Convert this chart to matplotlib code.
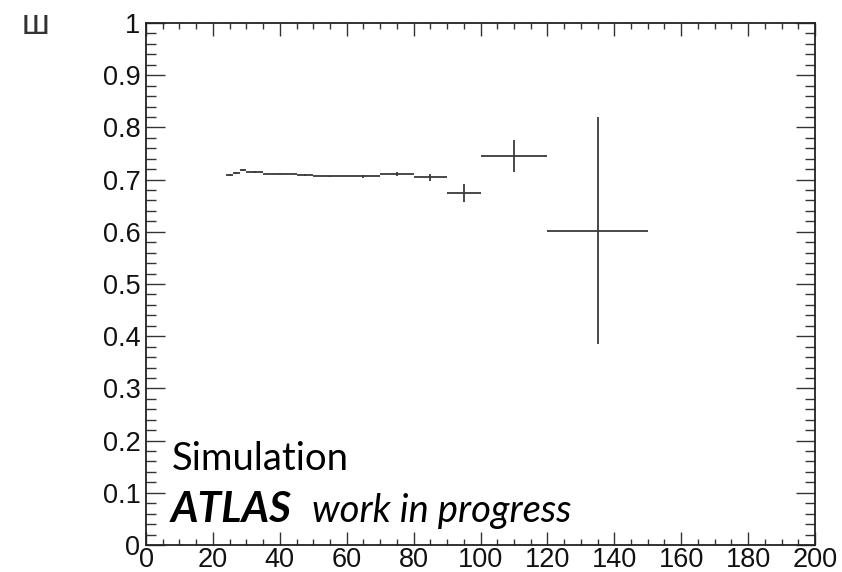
import numpy as np
import matplotlib.pyplot as plt
from matplotlib.ticker import MultipleLocator

# profile bins (variable width) and their mean / error
bin_lo = [24, 26, 28, 30, 35, 45, 50, 60, 70, 80, 90, 100, 120]
bin_hi = [26, 28, 30, 35, 45, 50, 60, 70, 80, 90, 100, 120, 150]
mean = [0.708, 0.713, 0.718, 0.714, 0.711, 0.709, 0.706, 0.706, 0.710, 0.7045, 0.675, 0.745, 0.602]
err = [0.002, 0.002, 0.002, 0.002, 0.001, 0.002, 0.001, 0.002, 0.004, 0.007, 0.017, 0.030, 0.217]

lo = np.array(bin_lo, dtype=float)
hi = np.array(bin_hi, dtype=float)
xc = 0.5 * (lo + hi)
xw = 0.5 * (hi - lo)

W, H = 842, 572
plt.rcParams['font.family'] = ['Liberation Sans', 'DejaVu Sans']

fig = plt.figure(figsize=(W / 100, H / 100), dpi=100)
ax = fig.add_axes([146 / W, 1 - 545 / H, (815 - 146) / W, (545 - 23) / H])

ax.errorbar(xc, mean, xerr=xw, yerr=err, fmt='none', ecolor='#3a3a3a',
            elinewidth=1.3, capsize=0)

ax.set_xlim(0, 200)
ax.set_ylim(0, 1)
ax.xaxis.set_major_locator(MultipleLocator(20))
ax.xaxis.set_minor_locator(MultipleLocator(5))
ax.yaxis.set_minor_locator(MultipleLocator(0.02))
ax.set_yticks(np.arange(0, 1.01, 0.1))
ax.set_yticklabels(['0'] + ['%.1f' % v for v in np.arange(0.1, 0.95, 0.1)] + ['1'])

ax.tick_params(axis='both', which='both', direction='in', top=True, right=True,
               labelsize=19.5, labelcolor='#111111', color='#333333', width=1)
ax.tick_params(axis='x', which='major', length=9.5, pad=1.5)
ax.tick_params(axis='x', which='minor', length=4.5)
ax.tick_params(axis='y', which='major', length=14, pad=4)
ax.tick_params(axis='y', which='minor', length=7)
for s in ax.spines.values():
    s.set_linewidth(1.3)
    s.set_color('#222222')

# axis title sits in the top-left corner
fig.text(35 / W, 1 - 25 / H, 'ш', fontsize=25, color='#333333',
         ha='center', va='center')

fig.text(172 / W, 1 - 470 / H, 'Simulation', fontsize=27.5,
         family='Lato', va='baseline')
fig.text(171 / W, 1 - 522 / H, 'ATLAS', fontsize=30.5, family='Lato',
         fontweight='bold', fontstyle='italic', va='baseline')
fig.text(312 / W, 1 - 522 / H, 'work in progress', fontsize=27.5,
         family='Lato', fontstyle='italic', va='baseline')

fig.savefig('out.png', dpi=100)
